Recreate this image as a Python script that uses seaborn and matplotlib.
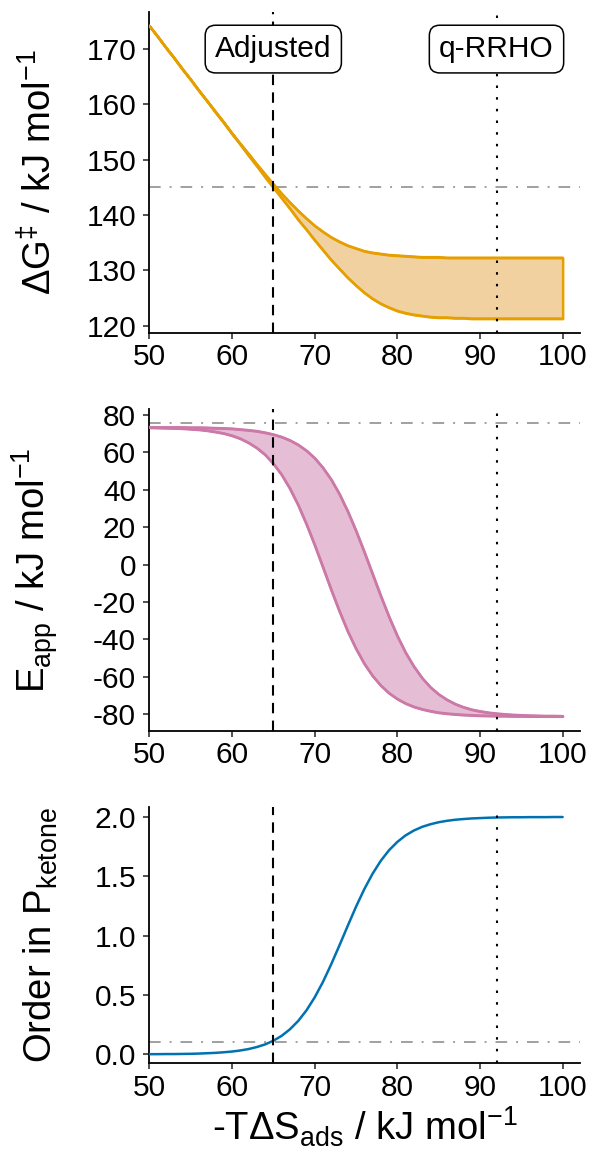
import matplotlib
matplotlib.use('Agg')
import matplotlib.pyplot as plt
import seaborn as sns

# -T dS_ads grid (kJ/mol), 50..100 in steps of 1, curves
x_tds = list(range(50, 101))

dg_upper = [174.2, 172.3, 170.3, 168.4, 166.4, 164.5, 162.5, 160.6, 158.7, 156.8,
            154.8, 152.9, 151.1, 149.2, 147.4, 145.6, 143.9, 142.3, 140.8, 139.4,
            138.1, 137.0, 136.0, 135.2, 134.5, 134.0, 133.5, 133.2, 133.0, 132.8,
            132.7, 132.6, 132.5, 132.4, 132.4, 132.4, 132.3, 132.3, 132.3, 132.3,
            132.3, 132.3, 132.3, 132.3, 132.3, 132.3, 132.3, 132.3, 132.3, 132.3,
            132.3]
dg_lower = [174.2, 172.3, 170.3, 168.4, 166.4, 164.5, 162.5, 160.6, 158.6, 156.7,
            154.7, 152.8, 150.8, 148.9, 146.9, 145.0, 143.1, 141.2, 139.2, 137.4,
            135.5, 133.7, 131.9, 130.3, 128.7, 127.3, 126.0, 124.9, 124.0, 123.3,
            122.7, 122.3, 122.0, 121.8, 121.6, 121.5, 121.5, 121.4, 121.4, 121.3,
            121.3, 121.3, 121.3, 121.3, 121.3, 121.3, 121.3, 121.3, 121.3, 121.3,
            121.3]

eapp_right = [73.5, 73.4, 73.4, 73.4, 73.4, 73.3, 73.3, 73.2, 73.0, 72.9,
              72.7, 72.3, 71.9, 71.4, 70.6, 69.6, 68.3, 66.5, 64.1, 61.0,
              57.0, 51.8, 45.5, 37.7, 28.5, 18.1, 6.8, -5.0, -16.8, -28.0,
              -38.2, -47.1, -54.5, -60.7, -65.6, -69.4, -72.3, -74.6, -76.3, -77.6,
              -78.5, -79.2, -79.7, -80.1, -80.4, -80.6, -80.8, -80.9, -81.0, -81.0,
              -81.1]
eapp_left = [73.3, 73.2, 73.1, 73.0, 72.8, 72.5, 72.2, 71.7, 71.0, 70.2,
             69.0, 67.4, 65.2, 62.4, 58.8, 54.0, 48.1, 40.7, 31.9, 21.7,
             10.5, -1.4, -13.5, -25.0, -35.7, -45.0, -53.0, -59.5, -64.7, -68.8,
             -71.9, -74.3, -76.1, -77.4, -78.4, -79.2, -79.7, -80.1, -80.4, -80.6,
             -80.8, -80.9, -81.0, -81.0, -81.1, -81.1, -81.1, -81.1, -81.2, -81.2,
             -81.2]

order_ketone = [0.001, 0.001, 0.002, 0.002, 0.003, 0.004, 0.006, 0.009, 0.012, 0.017,
                0.023, 0.032, 0.044, 0.061, 0.083, 0.114, 0.155, 0.210, 0.280, 0.369,
                0.479, 0.609, 0.758, 0.918, 1.082, 1.243, 1.391, 1.521, 1.631, 1.720,
                1.790, 1.845, 1.886, 1.917, 1.939, 1.956, 1.968, 1.977, 1.983, 1.988,
                1.991, 1.994, 1.996, 1.997, 1.998, 1.998, 1.999, 1.999, 1.999, 2.000,
                2.000]

x_adjusted = 65
x_qrrho = 92
dg_ref = 145
eapp_ref = 75.6
order_ref = 0.1

sns.set_theme(style='ticks')
plt.rcParams['font.family'] = ['Liberation Sans', 'DejaVu Sans']
plt.rcParams['mathtext.fontset'] = 'custom'
plt.rcParams['mathtext.rm'] = 'Liberation Sans'
plt.rcParams['mathtext.it'] = 'Liberation Sans:italic'
plt.rcParams['mathtext.default'] = 'regular'
plt.rcParams['axes.unicode_minus'] = False
plt.rcParams['text.color'] = 'black'
plt.rcParams['axes.labelcolor'] = 'black'

orange = '#E69F00'
pink = '#CC79A7'
blue = '#0072B2'
grey = '#A0A0A0'
lw = 1.8
dotdash = (0, (6, 4.6, 1, 4.6))

fig = plt.figure(figsize=(5.92, 11.64), dpi=100)
W, H = 592, 1164
left, right = 149.3, 580
panels = [(12, 333), (409.3, 730.7), (806.7, 1063.3)]
axes = [fig.add_axes([left / W, 1 - b / H, (right - left) / W, (b - t) / H]) for t, b in panels]
ax1, ax2, ax3 = axes

# panel 1: free energy barrier
ax1.fill_between(x_tds, dg_lower, dg_upper, facecolor='#F2D1A1', edgecolor=orange, lw=lw, zorder=2)
sns.lineplot(x=x_tds, y=dg_upper, ax=ax1, color=orange, lw=lw, zorder=3)
sns.lineplot(x=x_tds, y=dg_lower, ax=ax1, color=orange, lw=lw, zorder=3)
ax1.axhline(dg_ref, color=grey, lw=1.4, ls=dotdash, zorder=1)
ax1.set_ylim(118.7, 176.7)
ax1.set_yticks([120, 130, 140, 150, 160, 170])
ax1.set_ylabel(r'$\Delta$G$^{\ddag}$ / kJ mol$^{-1}$')

# panel 2: apparent activation energy
ax2.fill_between(x_tds, eapp_left, eapp_right, facecolor='#E5BED5', edgecolor=pink, lw=lw, zorder=2)
sns.lineplot(x=x_tds, y=eapp_right, ax=ax2, color=pink, lw=lw, zorder=3)
sns.lineplot(x=x_tds, y=eapp_left, ax=ax2, color=pink, lw=lw, zorder=3)
ax2.axhline(eapp_ref, color=grey, lw=1.4, ls=dotdash, zorder=1)
ax2.set_ylim(-88.9, 83.05)
ax2.set_yticks(list(range(-80, 81, 20)))
ax2.set_ylabel(r'E$_{app}$ / kJ mol$^{-1}$')

# panel 3: reaction order in ketone
sns.lineplot(x=x_tds, y=order_ketone, ax=ax3, color=blue, lw=lw, zorder=3)
ax3.axhline(order_ref, color=grey, lw=1.4, ls=dotdash, zorder=1)
ax3.set_ylim(-0.076, 2.087)
ax3.set_yticks([0.0, 0.5, 1.0, 1.5, 2.0])
ax3.set_yticklabels(['0.0', '0.5', '1.0', '1.5', '2.0'])
ax3.set_ylabel(r'Order in P$_{ketone}$')
ax3.set_xlabel(r'-T$\Delta$S$_{ads}$ / kJ mol$^{-1}$', fontsize=27.5, labelpad=2)

for ax in axes:
    ax.axvline(x_adjusted, color='black', lw=1.5, ls=(0, (5, 3.5)), zorder=4)
    ax.axvline(x_qrrho, color='black', lw=1.5, ls=(0, (1.2, 4.4)), zorder=4)
    ax.set_xlim(50, 102.1)
    ax.set_xticks([50, 60, 70, 80, 90, 100])
    ax.tick_params(labelsize=21.5, length=4.5, width=1.2, color='#333333',
                   labelcolor='black', pad=3)
    ax.tick_params(axis='y', pad=5)
    ax.yaxis.label.set_fontsize(27.5)
    ax.yaxis.set_label_coords(-0.208, 0.5)
    for s in ['left', 'bottom']:
        ax.spines[s].set_linewidth(1.3)
        ax.spines[s].set_color('black')
    sns.despine(ax=ax)

for xv, txt in [(x_adjusted, 'Adjusted'), (x_qrrho, 'q-RRHO')]:
    ax1.text(xv, 170, txt, ha='center', va='center', fontsize=21.5, zorder=6,
             bbox=dict(boxstyle='round,pad=0.33,rounding_size=0.35', fc='white', ec='black', lw=1.1))

fig.savefig('out.png', dpi=100)
